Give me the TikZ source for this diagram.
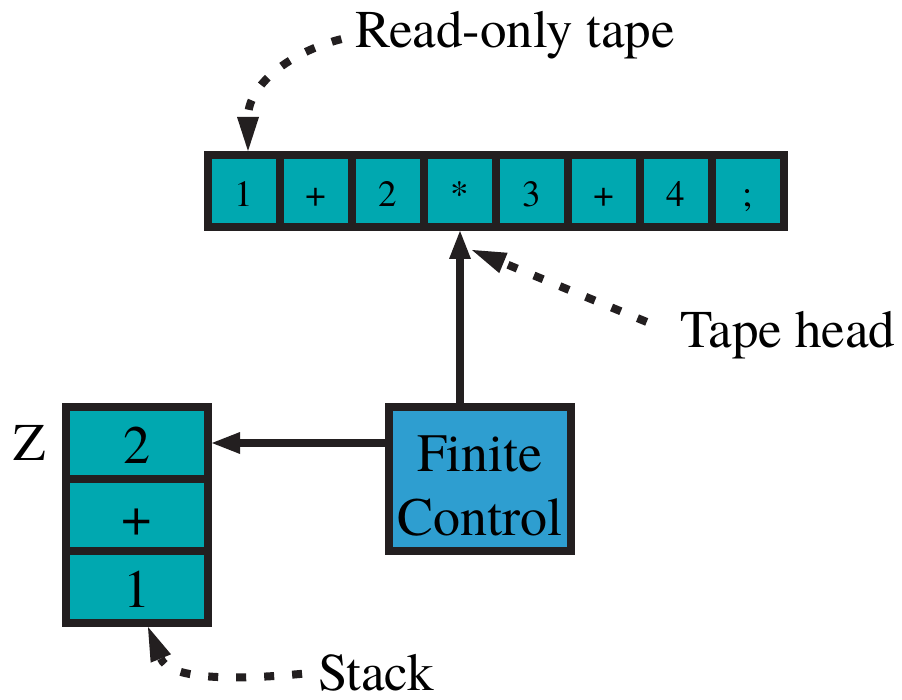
\documentclass[tikz,border=0pt]{standalone}
\usepackage{fontspec}
\setmainfont{TeX Gyre Termes}
\usetikzlibrary{arrows.meta,positioning}
\definecolor{cellT}{RGB}{0,168,176}
\definecolor{ctrlB}{RGB}{46,158,208}
\definecolor{inkK}{RGB}{35,31,32}

\begin{document}
\begin{tikzpicture}[
  x=1pt, y=-1pt,
  cell/.style={draw=inkK, line width=8pt, fill=cellT, minimum width=72pt, minimum height=72pt,
    inner sep=0pt, text height=32pt, text depth=0pt, font=\fontsize{37}{40}\selectfont},
  slot/.style={cell, minimum width=142pt, text height=40pt, font=\fontsize{54}{58}\selectfont},
  ctrl/.style={draw=inkK, line width=8pt, fill=ctrlB, minimum width=182pt, minimum height=144pt,
    inner sep=0pt, align=center, text height=112pt, text depth=0pt, font=\fontsize{54}{64}\selectfont},
  lbl/.style={font=\fontsize{53}{60}\selectfont, inner sep=0pt},
  link/.style={draw=inkK, line width=8pt, -{Triangle[length=28pt,width=22pt,line width=0pt]}},
  hint/.style={draw=inkK, line width=8pt, dash pattern=on 10pt off 18pt,
    -{Triangle[length=34pt,width=22pt,line width=0pt]}}
]
\useasboundingbox (0,0) rectangle (902,700);

% tape cells and stack cells
\foreach \s [count=\i] in {1,+,2,*,3,+,4,;}
  \node[cell] (t\i) at ({172+72*\i},191) {\s};
\foreach \s [count=\i] in {2,+,1}
  \node[slot] (s\i) at (137,{371+72*\i}) {\s};
\node[lbl, left=16pt of s1] (ztop) {Z};

\node[ctrl] (fc) at (480,479) {Finite\\Control};

\node[lbl, anchor=base west] (rotape) at (355,48) {Read-only tape};
\node[lbl, anchor=base west] (thead) at (680,348) {Tape head};
\node[lbl, anchor=base west] (stk) at (318,690) {Stack};

\draw[link] (fc.north -| t4.south) -- (t4.south);
\draw[link] (fc.west |- s1) -- (s1.east);

\draw[hint, shorten <=14pt] (rotape.west) .. controls (290,52) and (248,85) .. ([xshift=4pt]t1.north);
\draw[hint, shorten <=36pt] (thead.west) -- ([xshift=12pt,yshift=-19pt]t4.south);
\draw[hint, shorten <=16pt] (stk.west) .. controls (215,682) and (168,676) .. ([xshift=11pt]s3.south);
\end{tikzpicture}
\end{document}
